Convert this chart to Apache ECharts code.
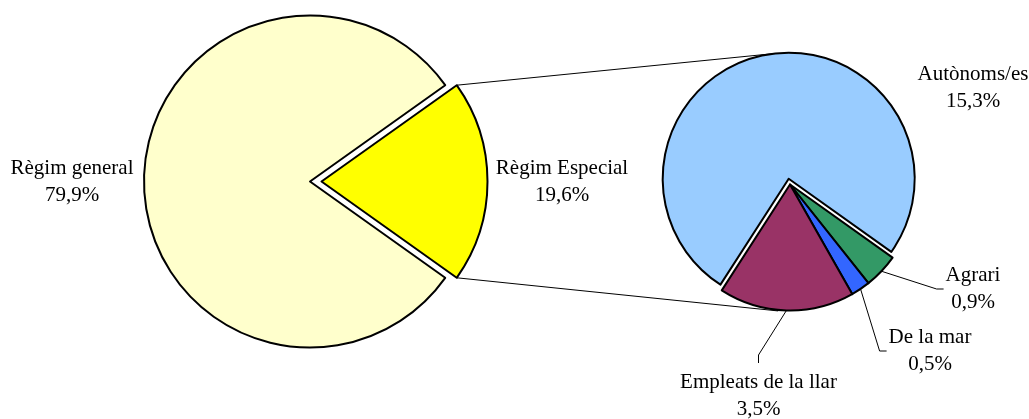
<!DOCTYPE html>
<html>
<head>
<meta charset="utf-8">
<script src="https://cdn.jsdelivr.net/npm/echarts@6/dist/echarts.min.js"></script>
<style>
html,body{margin:0;padding:0;background:#fff;}
#chart{width:1029px;height:419px;}
</style>
</head>
<body>
<div id="chart"></div>
<script>
// ---- data ----
const mainCategories = ['Règim Especial', 'Règim general'];
const mainValues = [19.6, 79.9];
const detailCategories = ['Autònoms/es', 'Agrari', 'De la mar', 'Empleats de la llar'];
const detailValues = [15.3, 0.9, 0.5, 3.5];
const mainColors = ['#FFFF00', '#FFFFCC'];
const detailColors = ['#99CCFF', '#339966', '#3366FF', '#993366'];

// ---- layout ----
const FONT = 'Liberation Serif';
const rMain = 166, rDet = 126;
const cGeneral = [310, 181.5], cEspecial = [321.5, 181.5];
const cAuto = [788.7, 178.7], cRest = [790, 184.5];
const labelPos = {
  'Règim general': {x: 72, y: 182, line: null},
  'Règim Especial': {x: 562, y: 182, line: null},
  'Autònoms/es': {x: 973, y: 88, line: null},
  'Agrari': {x: 973, y: 289, line: 'left'},
  'De la mar': {x: 930, y: 351, line: 'left'},
  'Empleats de la llar': {x: 758.5, y: 396, line: 'top'}
};

function fmt(v) { return v.toFixed(1).replace('.', ',') + '%'; }

function makeData(cats, vals, colors, visible) {
  return cats.map((n, i) => {
    const show = visible.indexOf(n) >= 0;
    return {
      name: n,
      value: vals[i],
      itemStyle: show ? {color: colors[i], borderColor: '#000', borderWidth: 2}
                      : {color: 'rgba(0,0,0,0)', borderWidth: 0},
      label: {show: show},
      labelLine: {show: show && !!labelPos[n].line}
    };
  });
}

function layoutFn(cats) {
  return function (params) {
    const name = cats[params.dataIndex];
    const p = labelPos[name];
    const w = params.labelRect.width, h = params.labelRect.height;
    const res = {x: p.x, y: p.y, align: 'center', verticalAlign: 'middle'};
    if (p.line && params.labelLinePoints) {
      const s = params.labelLinePoints[0];
      if (p.line === 'left') {
        const left = p.x - w / 2;
        res.labelLinePoints = [s, [left - 9, p.y], [left - 2, p.y]];
      } else {
        const top = p.y - h / 2;
        res.labelLinePoints = [s, [p.x, top - 14], [p.x, top - 6]];
      }
    }
    return res;
  };
}

const baseLabel = {
  position: 'outside',
  fontFamily: FONT,
  fontSize: 21,
  lineHeight: 27,
  color: '#000',
  overflow: 'none',
  formatter: p => p.name + '\n' + fmt(p.value)
};
const baseLine = {lineStyle: {color: '#000', width: 1}, length: 10, length2: 10};

const totalMain = mainValues.reduce((a, b) => a + b, 0);
const totalDet = detailValues.reduce((a, b) => a + b, 0);
const mainStart = 180 * mainValues[0] / totalMain;        // Especial centred on the right
const detStart = 237.2;

function pieSeries(center, r, start, cats, vals, colors, visible) {
  return {
    type: 'pie',
    center: center,
    radius: [0, r],
    startAngle: start,
    clockwise: true,
    silent: true,
    animation: false,
    avoidLabelOverlap: false,
    data: makeData(cats, vals, colors, visible),
    label: baseLabel,
    labelLine: baseLine,
    labelLayout: layoutFn(cats),
    emphasis: {disabled: true}
  };
}

// connector lines between the pies
const halfA = mainStart * Math.PI / 180;
const topStart = [cEspecial[0] + rMain * Math.cos(halfA), cEspecial[1] - rMain * Math.sin(halfA)];
const botStart = [cEspecial[0] + rMain * Math.cos(halfA), cEspecial[1] + rMain * Math.sin(halfA)];
const aTop = 97 * Math.PI / 180, aBot = 264.6 * Math.PI / 180;
const topEnd = [cAuto[0] + rDet * Math.cos(aTop), cAuto[1] - rDet * Math.sin(aTop)];
const botEnd = [cRest[0] + (rDet + 1) * Math.cos(aBot), cRest[1] - (rDet + 1) * Math.sin(aBot)];

const chart = echarts.init(document.getElementById('chart'), null, {renderer: 'canvas'});
chart.setOption({
  backgroundColor: '#fff',
  animation: false,
  textStyle: {fontFamily: FONT},
  graphic: [
    {type: 'line', z: 0, shape: {x1: topStart[0], y1: topStart[1], x2: topEnd[0], y2: topEnd[1]}, style: {stroke: '#000', lineWidth: 1}},
    {type: 'line', z: 0, shape: {x1: botStart[0], y1: botStart[1], x2: botEnd[0], y2: botEnd[1]}, style: {stroke: '#000', lineWidth: 1}}
  ],
  series: [
    pieSeries(cGeneral, rMain, mainStart, mainCategories, mainValues, mainColors, ['Règim general']),
    pieSeries(cEspecial, rMain, mainStart, mainCategories, mainValues, mainColors, ['Règim Especial']),
    pieSeries(cAuto, rDet, detStart, detailCategories, detailValues, detailColors, ['Autònoms/es']),
    pieSeries(cRest, rDet, detStart, detailCategories, detailValues, detailColors, ['Agrari', 'De la mar', 'Empleats de la llar'])
  ]
});
</script>
</body>
</html>
